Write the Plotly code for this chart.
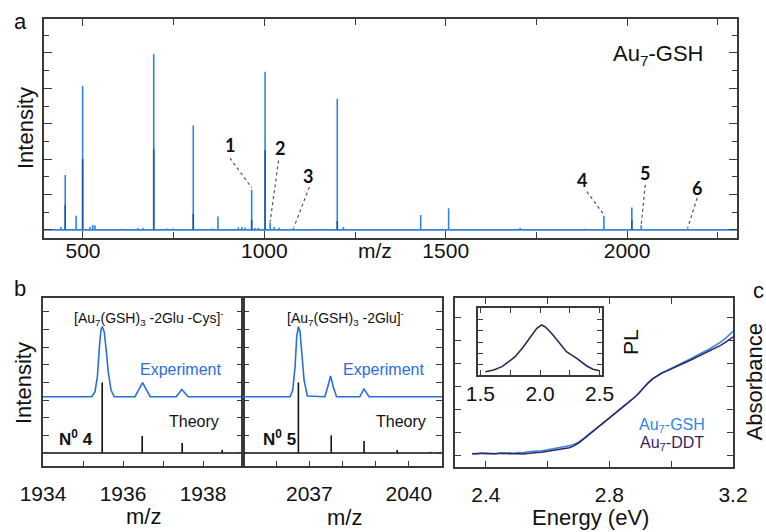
import plotly.graph_objects as go

PAGE_W, PAGE_H = 766, 532
W, H = PAGE_W, PAGE_H
def px(x): return x / W
def py(y): return 1 - y / H

FONT = "Liberation Sans, Arial, sans-serif"
BLUE = "#3383dc"
DARKBLUE = "#1c58a8"
EXP_BLUE = "#2a6fd6"
GSH_BLUE = "#2f86e8"
DDT_PURPLE = "#34245e"
FRAME = "#3a3a3a"

# ---------------- Panel a: mass spectrum ----------------
A_XRANGE = [392.5, 2303]
A_YRANGE = [-0.23, 5.96]
ms_mz = [439, 451, 481, 499, 519, 527, 533, 607, 651, 666, 695, 731, 748, 804, 857, 872,
         928, 938, 947, 965, 974, 983, 1002, 1016, 1027, 1041, 1080, 1155, 1201, 1218,
         1431, 1508, 1705, 1884, 1936, 2013, 2039, 2167]
ms_int = [0.09, 1.55, 0.40, 4.07, 0.09, 0.14, 0.12, 0.03, 0.05, 0.05, 4.97, 0.04, 0.04, 2.95, 0.04, 0.38,
          0.07, 0.08, 0.07, 1.13, 0.05, 0.05, 4.47, 0.21, 0.08, 0.06, 0.06, 0.03, 3.70, 0.08,
          0.42, 0.61, 0.05, 0.03, 0.40, 0.63, 0.13, 0.04]
ms_inner_mz = [451, 499, 695, 804, 965, 1002, 1201, 2013]
ms_inner_int = [0.71, 2.00, 2.29, 0.45, 0.28, 2.26, 0.25, 0.28]

peak_labels = ["1", "2", "3", "4", "5", "6"]
label_mz = [905, 1043, 1121, 1875, 2050, 2193]
label_y = [2.40, 2.32, 1.51, 1.41, 1.62, 1.18]
lead_x0 = [905, 1039, 1124, 1889, 2050, 2193]
lead_y0 = [2.03, 1.96, 1.21, 1.08, 1.27, 0.90]
lead_x1 = [965, 1016, 1082, 1933, 2039, 2167]
lead_y1 = [1.19, 0.23, 0.09, 0.47, 0.14, 0.05]

# ---------------- Panel b: isotope patterns ----------------
B1_XRANGE = [1934, 1939]
B2_XRANGE = [2035, 2041]
B_YRANGE = [-0.74, 8.79]
theo1_mz = [1935.48, 1936.48, 1937.48, 1938.48]
theo1_int = [4.0, 0.96, 0.57, 0.17]
theo2_mz = [2036.67, 2037.66, 2038.65, 2039.65, 2040.65]
theo2_int = [4.0, 1.0, 0.68, 0.17, 0.06]
exp1_mz = [1934.0, 1935.22, 1935.30, 1935.36, 1935.41, 1935.45, 1935.48, 1935.53, 1935.58, 1935.63,
           1935.70, 1935.78, 1936.30, 1936.41, 1936.49, 1936.58, 1936.68, 1937.33, 1937.47, 1937.63, 1939.0]
exp1_int = [3.19, 3.19, 3.48, 4.33, 6.03, 6.98, 7.17, 6.88, 5.84, 4.61,
            3.57, 3.19, 3.19, 3.67, 3.99, 3.60, 3.19, 3.19, 3.60, 3.19, 3.19]
exp2_mz = [2035.0, 2036.42, 2036.50, 2036.57, 2036.62, 2036.67, 2036.72, 2036.77, 2036.84, 2036.94,
           2037.47, 2037.57, 2037.64, 2037.72, 2037.82, 2038.52, 2038.65, 2038.80, 2041.0]
exp2_int = [3.19, 3.19, 3.57, 4.90, 6.60, 7.17, 6.88, 5.66, 4.14, 3.23,
            3.19, 3.86, 4.37, 3.76, 3.19, 3.19, 3.63, 3.19, 3.19]

# ---------------- Panel c: absorbance + PL inset ----------------
C_XRANGE = [2.3, 3.2]
C_YRANGE = [0, 7.35]
energy = [2.355, 2.37, 2.385, 2.40, 2.415, 2.43, 2.445, 2.46, 2.475, 2.49, 2.505, 2.52, 2.535, 2.55,
          2.565, 2.58, 2.595, 2.61, 2.625, 2.64, 2.655, 2.67, 2.685, 2.70, 2.715, 2.73, 2.745, 2.76,
          2.775, 2.79, 2.805, 2.82, 2.835, 2.85, 2.865, 2.88, 2.895, 2.91, 2.925, 2.94, 2.955, 2.97,
          2.985, 3.00, 3.02, 3.04, 3.06, 3.08, 3.10, 3.12, 3.14, 3.16, 3.18, 3.20]
abs_gsh = [0.59, 0.57, 0.61, 0.58, 0.60, 0.57, 0.61, 0.59, 0.62, 0.60, 0.63, 0.62, 0.66, 0.67,
           0.70, 0.71, 0.74, 0.77, 0.80, 0.83, 0.87, 0.92, 0.99, 1.08, 1.22, 1.38, 1.53, 1.68,
           1.86, 2.04, 2.19, 2.36, 2.53, 2.69, 2.85, 3.02, 3.22, 3.45, 3.66, 3.84, 3.99, 4.10,
           4.19, 4.30, 4.42, 4.56, 4.69, 4.84, 4.97, 5.10, 5.27, 5.43, 5.65, 5.90]
abs_ddt = [0.58, 0.59, 0.57, 0.60, 0.58, 0.59, 0.57, 0.60, 0.58, 0.59, 0.58, 0.57, 0.60, 0.61,
           0.63, 0.64, 0.67, 0.70, 0.72, 0.76, 0.79, 0.84, 0.92, 1.04, 1.20, 1.37, 1.52, 1.68,
           1.85, 2.03, 2.19, 2.35, 2.52, 2.68, 2.84, 3.01, 3.21, 3.44, 3.65, 3.83, 3.97, 4.08,
           4.17, 4.27, 4.38, 4.51, 4.63, 4.76, 4.88, 5.00, 5.14, 5.29, 5.46, 5.66]
I_XRANGE = [1.48, 2.52]
I_YRANGE = [0, 6.09]
pl_energy = [1.542, 1.611, 1.681, 1.75, 1.792, 1.861, 1.931, 1.973, 2.014, 2.042, 2.097, 2.153,
             2.222, 2.308, 2.392, 2.444, 2.5]
pl_int = [0.29, 0.46, 0.76, 1.36, 1.66, 2.57, 3.64, 4.24, 4.55, 4.39, 3.79, 3.03,
          2.12, 1.52, 0.82, 0.52, 0.39]


def sticks(xs, hs):
    X, Y = [], []
    for x, h in zip(xs, hs):
        X += [x, x, None]
        Y += [0, h, None]
    return X, Y


fig = go.Figure()

# panel a
fig.add_trace(go.Scatter(x=A_XRANGE, y=[0, 0], mode="lines", line=dict(color=BLUE, width=1.6),
                         xaxis="x", yaxis="y", hoverinfo="skip"))
sx, sy = sticks(ms_mz, ms_int)
fig.add_trace(go.Scatter(x=sx, y=sy, mode="lines", line=dict(color=BLUE, width=1.6),
                         xaxis="x", yaxis="y"))
sx, sy = sticks(ms_inner_mz, ms_inner_int)
fig.add_trace(go.Scatter(x=sx, y=sy, mode="lines", line=dict(color=DARKBLUE, width=1.6),
                         xaxis="x", yaxis="y"))

# panel b
for xa, ya, xr, emz, eint, tmz, tint in [("x2", "y2", B1_XRANGE, exp1_mz, exp1_int, theo1_mz, theo1_int),
                                          ("x3", "y3", B2_XRANGE, exp2_mz, exp2_int, theo2_mz, theo2_int)]:
    fig.add_trace(go.Scatter(x=xr, y=[0, 0], mode="lines", line=dict(color="#111", width=1.5),
                             xaxis=xa, yaxis=ya))
    sx, sy = sticks(tmz, tint)
    fig.add_trace(go.Scatter(x=sx, y=sy, mode="lines", line=dict(color="#111", width=1.6),
                             xaxis=xa, yaxis=ya))
    fig.add_trace(go.Scatter(x=emz, y=eint, mode="lines", line=dict(color=EXP_BLUE, width=1.6),
                             xaxis=xa, yaxis=ya))

# panel c
fig.add_trace(go.Scatter(x=energy, y=abs_gsh, mode="lines", line=dict(color=GSH_BLUE, width=1.5),
                         xaxis="x4", yaxis="y4"))
fig.add_trace(go.Scatter(x=energy, y=abs_ddt, mode="lines", line=dict(color=DDT_PURPLE, width=1.5),
                         xaxis="x4", yaxis="y4"))
fig.add_trace(go.Scatter(x=pl_energy, y=pl_int, mode="lines", line=dict(color=DDT_PURPLE, width=1.6),
                         xaxis="x5", yaxis="y5"))

tickfont = dict(family=FONT, size=21, color="#111")
common = dict(showline=True, linecolor=FRAME, linewidth=1.5, ticks="inside", tickcolor=FRAME,
              tickwidth=1.3, showgrid=False, zeroline=False, fixedrange=True, automargin=False)

layout = dict(
    width=W, height=H, margin=dict(l=0, r=0, t=0, b=0, pad=0, autoexpand=False),
    paper_bgcolor="white", plot_bgcolor="white",
    showlegend=False, font=dict(family=FONT, color="#111"),
    xaxis=dict(common, domain=[px(44), px(737)], range=A_XRANGE, anchor="y", mirror="allticks",
               tick0=0, dtick=500, ticklen=7, tickfont=tickfont, ticklabelstandoff=-7,
               minor=dict(dtick=250, ticks="inside", ticklen=6, tickcolor=FRAME)),
    yaxis=dict(common, domain=[py(238), py(19)], range=A_YRANGE, anchor="x", mirror="allticks",
               tick0=0, dtick=1, ticklen=8, showticklabels=False,
               minor=dict(dtick=0.5, ticks="inside", ticklen=5, tickcolor=FRAME)),
    xaxis2=dict(common, domain=[px(43), px(243)], range=B1_XRANGE, anchor="y2", mirror=True,
                tickvals=[1934, 1935, 1936, 1937, 1938, 1939], ticktext=["1934", "", "1936", "", "1938", ""],
                ticklen=5, tickfont=tickfont, ticklabelstandoff=8),
    yaxis2=dict(common, domain=[py(466), py(298)], range=B_YRANGE, anchor="x2", mirror="allticks",
                tick0=0, dtick=1, ticklen=6, showticklabels=False),
    xaxis3=dict(common, domain=[px(243), px(442)], range=B2_XRANGE, anchor="y3", mirror=True,
                tickvals=[2035, 2036, 2037, 2038, 2039, 2040, 2041],
                ticktext=["", "", "2037", "", "", "2040", ""], ticklen=5, tickfont=tickfont,
                ticklabelstandoff=8),
    yaxis3=dict(common, domain=[py(466), py(298)], range=B_YRANGE, anchor="x3", mirror="allticks",
                tick0=0, dtick=1, ticklen=6, showticklabels=False),
    xaxis4=dict(common, domain=[px(455), px(733)], range=C_XRANGE, anchor="y4", mirror="allticks",
                tickvals=[2.4, 2.6, 2.8, 3.0, 3.2], ticktext=["2.4", "", "2.8", "", "3.2"],
                ticklen=6, tickfont=tickfont, ticklabelstandoff=8),
    yaxis4=dict(common, domain=[py(467), py(298)], range=C_YRANGE, anchor="x4", mirror="allticks",
                tick0=0.52, dtick=1, ticklen=6, showticklabels=False),
    xaxis5=dict(common, domain=[px(478), px(602)], range=I_XRANGE, anchor="y5", mirror="allticks",
                tickvals=[1.5, 1.75, 2.0, 2.25, 2.5], ticktext=["1.5", "", "2.0", "", "2.5"],
                ticklen=5, tickfont=tickfont, ticklabelstandoff=-1),
    yaxis5=dict(common, domain=[py(375), py(308)], range=I_YRANGE, anchor="x5", mirror="allticks",
                tick0=1, dtick=1, ticklen=5, showticklabels=False),
)
fig.update_layout(**layout)

# dotted leader lines and peak numbers (panel a)
for lab, lx, ly, x0, y0, x1, y1 in zip(peak_labels, label_mz, label_y, lead_x0, lead_y0, lead_x1, lead_y1):
    fig.add_shape(type="line", xref="x", yref="y", x0=x0, y0=y0, x1=x1, y1=y1,
                  line=dict(color="#555", width=1.2, dash="dot"))
    fig.add_annotation(xref="x", yref="y", x=lx, y=ly, text="<b>%s</b>" % lab, showarrow=False,
                       font=dict(family="Lato, Open Sans, sans-serif", size=18, color="#111"))


def ann(x, y, text, size, color="#111", angle=0, family=FONT, xanchor="center"):
    fig.add_annotation(xref="paper", yref="paper", x=px(x), y=py(y), text=text, showarrow=False,
                       xanchor=xanchor, yanchor="middle", textangle=angle,
                       font=dict(family=family, size=size, color=color))


ann(20, 22, "a", 22)
ann(20, 288, "b", 22)
ann(758, 290, "c", 22)
ann(25, 128, "Intensity", 22, angle=-90)
ann(375, 250, "m/z", 21)
ann(658, 55, "Au<sub>7</sub>-GSH", 22)
ann(23, 383, "Intensity", 22, angle=-90)
ann(149, 318, "[Au<sub>7</sub>(GSH)<sub>3</sub> -2Glu -Cys]<sup>-</sup>", 14)
ann(345, 318, "[Au<sub>7</sub>(GSH)<sub>3</sub> -2Glu]<sup>-</sup>", 14)
ann(180, 369, "Experiment", 16, color=EXP_BLUE)
ann(384, 369, "Experiment", 16, color=EXP_BLUE)
ann(194, 421, "Theory", 16)
ann(401, 421, "Theory", 16)
ann(76, 438, "<b>N<sup>0</sup> 4</b>", 17)
ann(279, 438, "<b>N<sup>0</sup> 5</b>", 17)
ann(143, 516, "m/z", 22)
ann(344, 517, "m/z", 22)
ann(590, 517, "Energy (eV)", 22)
ann(630, 342, "PL", 21, angle=-90)
ann(672, 425, "Au<sub>7</sub>-GSH", 16, color=GSH_BLUE)
ann(672, 443, "Au<sub>7</sub>-DDT", 16, color=DDT_PURPLE)
ann(739, 382, "Absorbance", 22, angle=-90, xanchor="left")

# remove the default page margin so the 766x532 figure fills the window exactly
PAGE_CSS_JS = ("document.documentElement.style.margin='0';document.body.style.margin='0';"
               "document.body.style.overflow='hidden';")
fig.write_html("out.html", post_script=PAGE_CSS_JS, config={"displayModeBar": False})
